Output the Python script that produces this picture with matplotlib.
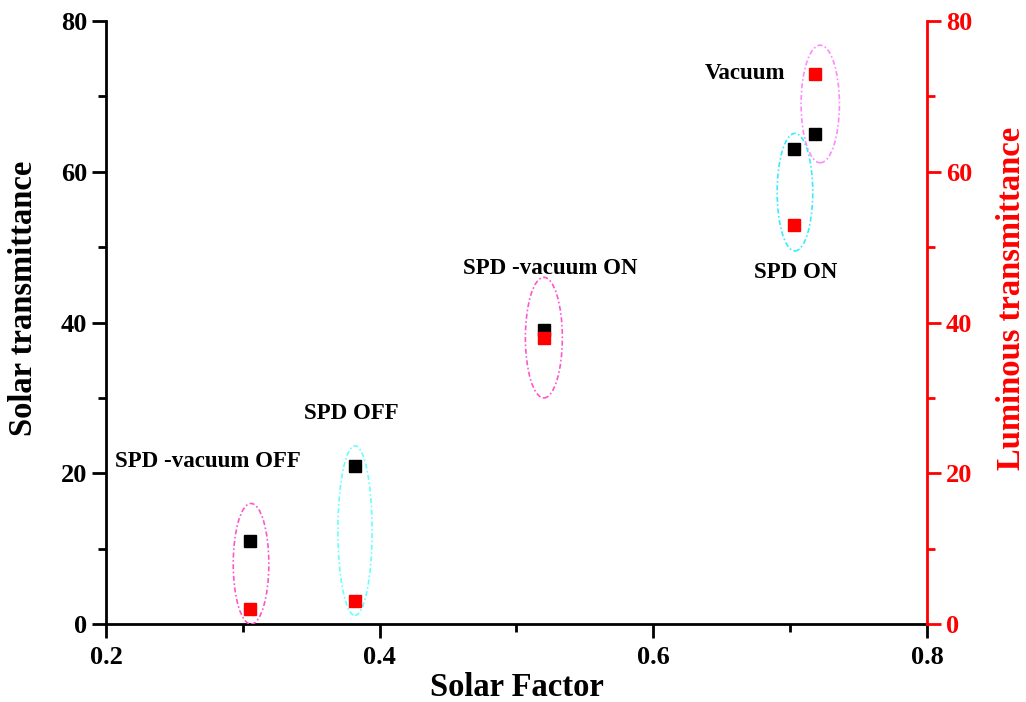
import matplotlib
matplotlib.use("Agg")
import matplotlib.pyplot as plt
from matplotlib.patches import Ellipse
from matplotlib.ticker import MultipleLocator

plt.rcParams['font.family'] = ['Liberation Serif', 'DejaVu Serif']
plt.rcParams['font.weight'] = 'bold'

# Data
labels = ["SPD -vacuum OFF", "SPD OFF", "SPD -vacuum ON", "SPD ON", "Vacuum"]
solar_factor = [0.305, 0.382, 0.520, 0.703, 0.718]
solar_trans = [11, 21, 39, 63, 65]
luminous_trans = [2, 3, 38, 53, 73]

# label positions (data coords)
label_x = [0.2746, 0.379, 0.5246, 0.704, 0.667]
label_y = [21.6, 27.9, 47.2, 46.7, 73.1]

# ellipses: center x, center y, width, height, color
ell_cx = [0.306, 0.382, 0.520, 0.7035, 0.722]
ell_cy = [8.0, 12.4, 38.0, 57.3, 69.0]
ell_w = [0.026, 0.025, 0.027, 0.026, 0.028]
ell_h = [16.0, 22.5, 16.0, 15.6, 15.6]
ell_col = ['#ff55cc', '#66ffff', '#ff55cc', '#33eeff', '#ff88ff']

fig = plt.figure(figsize=(10.26, 7.02), dpi=100)
ax = fig.add_axes([0.1033, 0.111, 0.8002, 0.859])
ax2 = ax.twinx()

ax.plot(solar_factor, solar_trans, 's', color='black', markersize=9, zorder=5)
ax2.plot(solar_factor, luminous_trans, 's', color='red', markersize=9, zorder=5)

for cx, cy, w, h, c in zip(ell_cx, ell_cy, ell_w, ell_h, ell_col):
    e = Ellipse((cx, cy), w, h, fill=False, edgecolor=c, linestyle=(0, (3, 1.5, 1, 1.5)), linewidth=1.2, zorder=4)
    ax.add_patch(e)

for t, x, y in zip(labels, label_x, label_y):
    ax.text(x, y, t, ha='center', va='center', fontsize=16.5, fontweight='bold')

ax.set_xlim(0.2, 0.8)
ax.set_ylim(0, 80)
ax2.set_ylim(0, 80)
ax.xaxis.set_major_locator(MultipleLocator(0.2))
ax.xaxis.set_minor_locator(MultipleLocator(0.1))
ax.yaxis.set_major_locator(MultipleLocator(20))
ax.yaxis.set_minor_locator(MultipleLocator(10))
ax2.yaxis.set_major_locator(MultipleLocator(20))
ax2.yaxis.set_minor_locator(MultipleLocator(10))
ax.xaxis.set_major_formatter(matplotlib.ticker.FuncFormatter(lambda v, p: f"{v:.1f}"))

for a in (ax, ax2):
    a.spines['top'].set_visible(False)
    for s in a.spines.values():
        s.set_linewidth(2)
ax.spines['right'].set_visible(False)
ax2.spines['left'].set_visible(False)
ax2.spines['bottom'].set_visible(False)
ax2.spines['right'].set_color('red')

ax.tick_params(axis='both', which='major', direction='out', length=10, width=2, labelsize=19)
ax.tick_params(axis='both', which='minor', direction='out', length=6, width=2)
ax.tick_params(axis='x', which='both', top=False)
ax.tick_params(axis='x', which='major', pad=6)
ax2.tick_params(axis='y', which='major', direction='out', length=10, width=2, colors='red', labelsize=19)
ax2.tick_params(axis='y', which='minor', direction='out', length=6, width=2, colors='red')

for lab in ax.get_xticklabels() + ax.get_yticklabels() + ax2.get_yticklabels():
    lab.set_fontweight('bold')

ax.set_xlabel("Solar Factor", fontsize=23.5, fontweight='bold')
ax.set_ylabel("Solar transmittance", fontsize=23.5, fontweight='bold')
ax2.set_ylabel("Luminous transmittance", fontsize=23.5, fontweight='bold', color='red')
ax.xaxis.set_label_coords(0.5, -0.080)
ax.yaxis.set_label_coords(-0.081, 0.54)
ax2.yaxis.set_label_coords(1.0835, 0.54)

fig.savefig("out.png", dpi=100)
